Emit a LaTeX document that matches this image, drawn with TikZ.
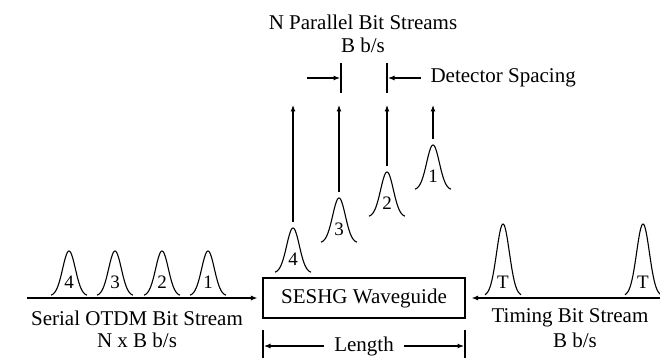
\documentclass[tikz,border=0pt]{standalone}
\usepackage{fontspec}
\setmainfont{Liberation Serif}
\usetikzlibrary{arrows.meta}

% bell-shaped pulse: centre x, baseline y, half-width, height, label
\newcommand\bellpulse[5]{%
  \draw plot[domain=-#3:#3, samples=51, smooth]
    ({#1+\x},{#2-#4*exp(-((\x/(0.5*#3))^2))});
  \node[num] at (#1,#2-14) {#5};
}

\begin{document}
\begin{tikzpicture}[x=1pt, y=-1pt, line width=1.1pt,
  arr/.style={-{Latex[length=6.5pt,width=5pt]}},
  lbl/.style={font=\fontsize{21}{23}\selectfont, inner sep=0pt},
  num/.style={font=\fontsize{19}{21}\selectfont, inner sep=0pt}]
\useasboundingbox (0,0) rectangle (660,358);

% waveguide
\node[draw, lbl, minimum width=202pt, minimum height=40pt] (wg) at (364,298) {SESHG Waveguide};

% serial input stream
\coordinate (sin) at (27,298);
\draw[arr] (sin) -- ([xshift=-5pt]wg.west);
\foreach \c/\n in {69/4,115/3,162/2,208/1} {\bellpulse{\c}{296}{18}{45}{\n}}
\node[lbl] (serial) at (137,318) {Serial OTDM Bit Stream};
\node[lbl] (serialrate) at (137,340) {N x B b/s};

% timing stream
\coordinate (tin) at (660,298);
\draw[arr] (tin) -- ([xshift=6pt]wg.east);
\foreach \c in {503,643} {\bellpulse{\c}{296}{18}{72}{T}}
\node[lbl] (timing) at (570,318) {Timing Bit Stream};
\node[lbl] (timingrate) at (575,340) {B b/s};

% demultiplexed output pulses and their arrows
\foreach \c/\b/\n in {293/273/4, 339/243/3, 387/217/2, 433/190/1} {
  \bellpulse{\c}{\b}{18}{45}{\n}
  \coordinate (o\n) at (\c,\b-51);
  \coordinate (d\n) at (\c,105);
  \draw[arr] (o\n) -- (d\n);
}
\node[lbl] (par) at (363,22) {N Parallel Bit Streams};
\node[lbl] (parrate) at (363,45) {B b/s};

% detector spacing
\coordinate (ba) at (341,63); \coordinate (bb) at (341,93);
\coordinate (ca) at (387,63); \coordinate (cb) at (387,93);
\draw (ba) -- (bb);
\draw (ca) -- (cb);
\coordinate (dl) at (307,78);
\draw[arr] (dl) -- (340,78);
\node[lbl, anchor=west] (det) at (430,78) {Detector Spacing};
\draw[arr] ([xshift=-9pt]det.west) -- (388,78);

% length
\coordinate (la) at (263,330); \coordinate (lb) at (263,358);
\coordinate (ra) at (465,330); \coordinate (rb) at (465,358);
\draw (la) -- (lb);
\draw (ra) -- (rb);
\node[lbl, inner xsep=10pt] (len) at (364,346) {Length};
\draw[arr] (len.west) -- (264,346);
\draw[arr] (len.east) -- (464,346);
\end{tikzpicture}
\end{document}
